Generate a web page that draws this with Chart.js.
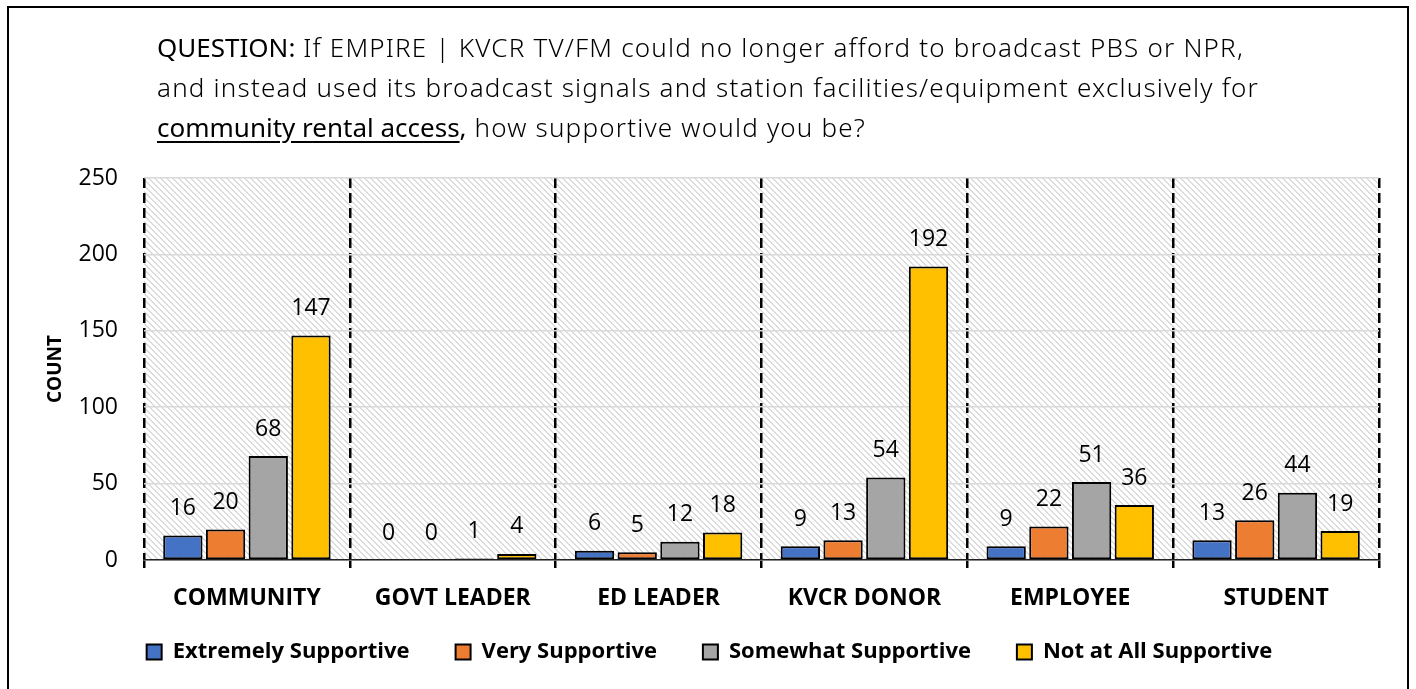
<!DOCTYPE html>
<html>
<head>
<meta charset="utf-8">
<script src="https://cdn.jsdelivr.net/npm/chart.js@4.4.1/dist/chart.umd.min.js"></script>
<style>
  html, body { margin: 0; padding: 0; background: #fff; overflow: hidden; }
  #wrap { position: relative; width: 1416px; height: 689px; }
  #frame { position: absolute; left: 7px; top: 6px; width: 1398px; height: 720px; border: 2px solid #000; pointer-events: none; }
  #question { position: absolute; left: 157px; top: 27px; font-family: "Noto Sans", "Open Sans", sans-serif; font-weight: 300; font-size: 26px; letter-spacing: 1.2px; line-height: 40px; color: #000; white-space: nowrap; }
  #question .b { font-weight: 400; letter-spacing: 0; }
  #question u { font-weight: 400; letter-spacing: 0; text-underline-offset: 4px; }
  canvas { position: absolute; left: 0; top: 0; }
</style>
</head>
<body>
<div id="wrap">
  <canvas id="chart-bar-1" width="1416" height="689"></canvas>
  <div id="question"><span class="b">QUESTION:</span> If EMPIRE | KVCR TV/FM could no longer afford to broadcast PBS or NPR,<br>and instead used its broadcast signals and station facilities/equipment exclusively for<br><u>community rental access</u><span class="b">,</span> how supportive would you be?</div>
  <div id="frame"></div>
</div>
<script>
// data
var groups = ["COMMUNITY", "GOVT LEADER", "ED LEADER", "KVCR DONOR", "EMPLOYEE", "STUDENT"];
var extremely = [16, 0, 6, 9, 9, 13];
var very = [20, 0, 5, 13, 22, 26];
var somewhat = [68, 1, 12, 54, 51, 44];
var notAtAll = [147, 4, 18, 192, 36, 19];
var seriesNames = ["Extremely Supportive", "Very Supportive", "Somewhat Supportive", "Not at All Supportive"];
var seriesColors = ["#4472C4", "#ED7D31", "#A5A5A5", "#FFC000"];
var yTicks = [0, 50, 100, 150, 200, 250];

Chart.defaults.font.family = '"Open Sans", sans-serif';
Chart.defaults.color = '#000';

// light diagonal hatch for the plot area
var hatch = (function () {
    var c = document.createElement('canvas');
    c.width = 6; c.height = 6;
    var g = c.getContext('2d');
    g.fillStyle = '#dcdcdc';
    for (var i = 0; i < 6; i++) {
        g.fillRect(i, i, 1, 1);
        g.fillRect((i + 1) % 6, i, 1, 1);
    }
    return g.createPattern(c, 'repeat');
})();

var hatchBg = {
    id: 'hatchBg',
    beforeDraw: function (chart) {
        var a = chart.chartArea, ctx = chart.ctx;
        ctx.save();
        ctx.fillStyle = hatch;
        ctx.fillRect(a.left, a.top, a.right - a.left, a.bottom - a.top);
        ctx.restore();
    }
};

var valueLabels = {
    id: 'valueLabels',
    afterDatasetsDraw: function (chart) {
        var ctx = chart.ctx;
        ctx.save();
        ctx.font = '23px "Open Sans"';
        ctx.fillStyle = '#000';
        ctx.textAlign = 'center';
        ctx.textBaseline = 'middle';
        chart.data.datasets.forEach(function (ds, i) {
            chart.getDatasetMeta(i).data.forEach(function (bar, j) {
                ctx.fillText(String(ds.data[j]), bar.x, bar.y - 27);
            });
        });
        ctx.restore();
    }
};

// legend needs wide gaps between items, so pull it up after layout
var legendPlace = {
    id: 'legendPlace',
    beforeLayout: function (chart) {
        var lg = chart.legend;
        if (lg && !lg._fixed) {
            var fit = lg.fit;
            lg.fit = function () { fit.call(this); this.height = 69; };
            lg._fixed = true;
        }
    },
    afterLayout: function (chart) {
        var lg = chart.legend;
        lg.top = 595;
        lg.bottom = 689;
        lg.height = 94;
    }
};

var allSeries = [extremely, very, somewhat, notAtAll];
var datasets = allSeries.map(function (vals, i) {
    return {
        label: seriesNames[i],
        data: vals,
        backgroundColor: seriesColors[i],
        borderColor: '#000',
        borderWidth: 2,
        borderSkipped: false,
        categoryPercentage: 0.83,
        barPercentage: 0.92
    };
});

var bar = document.getElementById('chart-bar-1').getContext('2d');
var myBarChart = new Chart(bar, {
    type: 'bar',
    data: { labels: groups, datasets: datasets },
    plugins: [hatchBg, valueLabels, legendPlace],
    options: {
        responsive: false,
        animation: false,
        layout: { padding: { left: 40, right: 37, top: 178, bottom: 0 } },
        plugins: {
            tooltip: { enabled: false },
            legend: {
                position: 'bottom',
                labels: {
                    boxWidth: 15,
                    boxHeight: 15,
                    padding: 46,
                    font: { size: 22, weight: 'bold' }
                }
            }
        },
        scales: {
            x: {
                afterFit: function (s) { s.height = 60; },
                grid: {
                    offset: true,
                    color: '#000',
                    lineWidth: 2.5,
                    drawTicks: true,
                    tickLength: 8,
                    tickColor: '#000',
                    tickWidth: 2.5
                },
                border: { display: true, color: '#222', width: 1.5, dash: [10, 5] },
                ticks: { font: { size: 23, weight: 'bold' }, padding: 17, maxRotation: 0 }
            },
            y: {
                min: 0,
                max: 250,
                afterFit: function (s) { s.width = 104; },
                afterBuildTicks: function (s) { s.ticks = yTicks.map(function (v) { return { value: v }; }); },
                grid: { color: '#d9d9d9', lineWidth: 1.5, drawTicks: false },
                border: { display: false },
                ticks: { font: { size: 23 }, padding: 26 },
                title: { display: true, text: 'COUNT', font: { size: 19, weight: 'bold' }, padding: 4 }
            }
        }
    }
});
</script>
</body>
</html>
